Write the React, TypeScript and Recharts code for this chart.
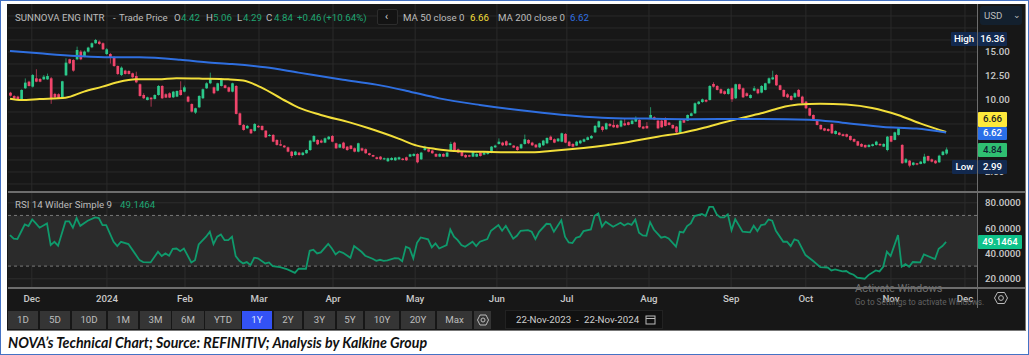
import React from 'react';
import {
  ComposedChart,
  LineChart,
  Bar,
  Line,
  XAxis,
  YAxis,
  CartesianGrid,
  ReferenceArea,
  ReferenceLine,
} from 'recharts';

const opens = [
  10.76, 10.42, 10.35, 10.0, 11.22, 11.91, 11.39, 12.26, 12.19, 12.15,
  12.15, 12.26, 10.63, 10.6, 10.14, 12.57, 14.24, 14.17, 14.24, 15.04,
  14.52, 15.04, 15.49, 15.91, 16.08, 15.91, 14.79, 14.79, 14.45, 13.54,
  12.6, 13.06, 13.02, 12.78, 12.5, 11.64, 10.52, 10.0, 10.24, 10.11,
  10.52, 11.46, 10.6, 10.7, 10.28, 10.35, 11.05, 10.87, 10.35, 9.58,
  8.69, 9.24, 10.18, 11.22, 11.74, 11.32, 10.97, 11.46, 11.53, 11.32,
  10.87, 11.46, 8.61, 7.4, 7.05, 6.95, 6.78, 7.3, 7.3, 6.81,
  6.25, 6.36, 5.84, 5.39, 5.25, 5.07, 4.62, 4.27, 4.52, 4.27,
  4.45, 4.79, 5.66, 5.84, 5.77, 5.56, 5.91, 6.25, 5.49, 5.04,
  5.56, 5.14, 5.25, 4.97, 4.62, 4.97, 4.87, 4.45, 4.27, 4.03,
  4.1, 3.82, 3.62, 3.75, 3.72, 3.82, 3.89, 4.03, 4.1, 4.17,
  4.38, 3.82, 4.79, 4.87, 4.73, 4.38, 4.1, 4.38, 4.1, 4.79,
  5.56, 4.87, 4.59, 4.27, 4.24, 4.1, 4.1, 4.52, 4.31, 4.38,
  4.52, 5.07, 5.42, 5.56, 5.7, 5.32, 5.25, 5.14, 4.97, 5.42,
  5.84, 5.56, 5.35, 5.07, 5.28, 5.49, 6.18, 5.91, 5.7, 5.66,
  6.46, 5.66, 5.42, 5.25, 5.49, 5.66, 5.84, 6.01, 6.63, 7.16,
  7.23, 6.95, 7.5, 7.4, 7.4, 7.23, 7.57, 7.68, 7.5, 7.75,
  7.92, 7.23, 7.3, 8.09, 8.2, 7.85, 7.85, 7.92, 7.64, 7.4,
  7.23, 6.6, 7.92, 7.85, 8.34, 8.61, 9.58, 9.79, 10.0, 10.0,
  11.67, 11.46, 11.12, 10.91, 10.63, 11.22, 10.18, 11.64, 11.22, 10.7,
  10.21, 10.97, 11.12, 10.77, 11.05, 11.74, 12.15, 12.6, 11.53, 11.05,
  10.59, 10.42, 10.28, 11.05, 10.35, 9.83, 9.14, 8.44, 7.92, 7.4,
  7.05, 6.98, 7.5, 6.46, 6.6, 6.43, 6.43, 6.25, 5.94, 5.7,
  5.42, 5.32, 5.11, 5.21, 5.32, 5.42, 5.14, 4.79, 6.25, 5.84,
  6.36, 5.32, 3.48, 3.68, 3.24, 3.41, 3.34, 3.41, 4.17, 3.82,
  3.68, 3.51, 4.27, 4.42,
];

const closes = [
  10.45, 10.17, 10.07, 11.05, 11.81, 11.46, 12.6, 11.91, 11.91, 12.43,
  12.5, 10.18, 10.28, 10.18, 11.95, 13.89, 13.82, 13.06, 15.21, 14.24,
  15.04, 15.46, 15.91, 16.25, 15.84, 15.28, 15.28, 14.45, 13.54, 12.71,
  13.37, 12.71, 12.71, 12.37, 11.84, 10.42, 10.18, 10.28, 10.07, 10.52,
  11.46, 10.18, 10.25, 10.25, 10.87, 10.94, 10.52, 11.32, 9.83, 8.79,
  9.14, 10.42, 11.12, 11.74, 12.26, 10.7, 11.74, 12.15, 11.25, 10.87,
  11.74, 8.55, 7.4, 6.88, 7.3, 6.53, 7.5, 7.16, 6.88, 6.11,
  6.36, 5.66, 5.32, 5.25, 5.07, 4.62, 4.17, 4.62, 4.27, 4.52,
  4.79, 5.77, 6.25, 5.39, 5.56, 6.01, 6.18, 5.66, 4.97, 5.39,
  4.97, 4.79, 4.9, 4.62, 5.49, 4.73, 4.45, 4.27, 4.1, 3.86,
  3.82, 3.93, 3.93, 3.96, 4.0, 4.03, 3.75, 3.72, 4.34, 4.38,
  3.51, 4.52, 5.07, 4.62, 4.45, 4.1, 4.38, 4.1, 4.52, 5.42,
  4.73, 4.52, 4.17, 4.03, 4.1, 4.62, 4.38, 4.17, 4.52, 4.62,
  5.14, 5.25, 5.66, 5.28, 5.28, 5.49, 5.04, 4.79, 5.39, 5.91,
  5.49, 5.28, 5.07, 5.49, 5.77, 6.05, 5.84, 5.56, 5.98, 6.53,
  5.56, 5.21, 5.14, 5.66, 5.77, 5.91, 6.11, 6.25, 7.3, 7.78,
  6.88, 7.57, 7.3, 7.16, 7.12, 7.85, 7.36, 7.4, 7.85, 8.09,
  7.16, 7.02, 7.05, 8.44, 7.99, 7.05, 7.16, 7.3, 7.4, 7.05,
  6.63, 7.85, 7.64, 8.44, 8.61, 9.66, 9.83, 10.07, 9.83, 11.46,
  11.39, 11.05, 10.7, 10.63, 11.15, 10.07, 11.64, 11.12, 10.28, 10.42,
  10.52, 11.22, 10.7, 11.46, 11.74, 12.26, 12.36, 11.53, 11.05, 10.35,
  10.28, 10.0, 10.7, 10.35, 9.66, 9.14, 8.37, 7.92, 7.4, 6.95,
  6.81, 6.77, 6.53, 6.77, 6.36, 6.25, 6.18, 5.84, 5.66, 5.25,
  5.14, 5.07, 5.32, 5.39, 5.66, 5.28, 5.42, 6.18, 5.66, 6.63,
  7.05, 3.41, 3.82, 3.16, 3.48, 3.27, 3.58, 4.1, 3.68, 3.58,
  3.41, 4.2, 4.62, 4.84,
];

const highs = [
  10.85, 10.5, 10.45, 11.1, 12.25, 12.0, 12.7, 13.2, 12.3, 12.6,
  12.75, 12.4, 10.75, 10.7, 12.0, 14.35, 14.3, 14.25, 15.56, 15.2,
  15.15, 15.55, 16.0, 16.36, 16.2, 16.0, 15.4, 14.9, 14.55, 13.6,
  13.5, 13.15, 13.1, 12.85, 12.95, 11.72, 10.7, 10.35, 10.3, 10.6,
  11.55, 11.55, 10.7, 10.8, 10.95, 11.0, 11.95, 11.5, 10.45, 9.65,
  9.2, 10.5, 11.2, 11.85, 12.85, 11.4, 11.8, 12.3, 11.6, 11.4,
  11.8, 11.55, 8.7, 7.5, 7.4, 7.0, 7.6, 7.4, 7.35, 6.85,
  6.45, 6.45, 5.9, 5.85, 5.3, 5.15, 4.7, 4.7, 4.6, 4.6,
  4.85, 5.85, 6.35, 5.9, 5.9, 6.1, 6.25, 6.35, 5.55, 5.45,
  5.65, 5.2, 5.3, 5.05, 5.55, 5.05, 4.95, 4.5, 4.3, 4.1,
  4.15, 4.0, 4.0, 4.05, 4.05, 4.1, 3.95, 4.1, 4.4, 4.45,
  4.45, 4.6, 5.25, 4.95, 4.8, 4.45, 4.45, 4.45, 4.6, 5.65,
  5.65, 4.95, 4.65, 4.35, 4.3, 4.7, 4.45, 4.6, 4.6, 4.7,
  5.2, 5.35, 6.0, 5.65, 5.8, 5.55, 5.3, 5.2, 5.45, 6.4,
  5.9, 5.65, 5.4, 5.55, 5.85, 6.1, 6.3, 6.0, 6.05, 6.6,
  6.55, 5.75, 5.5, 5.75, 5.85, 6.0, 6.2, 6.35, 7.4, 7.85,
  7.3, 7.65, 7.6, 7.9, 7.5, 7.95, 8.1, 7.75, 7.95, 8.3,
  8.0, 7.3, 7.7, 9.25, 8.3, 7.95, 7.95, 8.2, 7.7, 7.45,
  7.3, 7.95, 8.0, 8.5, 8.7, 9.75, 9.9, 10.15, 10.1, 11.55,
  11.85, 11.55, 11.2, 11.0, 11.25, 11.3, 11.7, 11.7, 11.3, 10.8,
  10.6, 11.45, 11.2, 11.55, 11.8, 12.35, 13.05, 12.7, 11.6, 11.1,
  10.7, 10.5, 10.8, 11.15, 10.45, 9.9, 9.2, 8.5, 8.0, 7.45,
  7.1, 7.05, 7.55, 6.85, 6.65, 6.5, 6.5, 6.3, 6.0, 5.75,
  5.5, 5.35, 5.4, 5.45, 5.75, 5.5, 5.5, 6.25, 6.3, 6.7,
  7.1, 5.4, 3.95, 3.75, 3.55, 3.45, 3.65, 4.4, 4.2, 3.9,
  3.75, 4.3, 4.7, 5.06,
];

const lows = [
  10.35, 10.1, 10.0, 9.95, 11.15, 11.4, 11.3, 11.85, 11.85, 12.1,
  12.1, 9.6, 10.2, 10.1, 10.1, 12.5, 13.75, 12.95, 14.15, 14.15,
  14.45, 14.95, 15.4, 15.85, 15.75, 15.2, 14.7, 13.8, 13.45, 12.6,
  12.5, 12.65, 12.65, 12.3, 11.75, 10.35, 10.1, 9.95, 9.3, 10.05,
  10.45, 10.1, 10.2, 10.2, 10.2, 10.3, 10.45, 10.8, 9.75, 8.7,
  8.55, 9.15, 10.1, 11.15, 11.65, 10.6, 10.9, 11.4, 11.2, 10.8,
  10.8, 8.5, 7.35, 6.8, 7.0, 6.45, 6.7, 7.1, 6.8, 6.05,
  6.2, 5.6, 5.25, 5.2, 5.0, 4.55, 3.95, 4.2, 4.2, 4.2,
  4.4, 4.7, 5.6, 5.3, 5.5, 5.5, 5.85, 5.6, 4.9, 5.0,
  4.9, 4.7, 4.85, 4.55, 4.55, 4.65, 4.4, 4.2, 4.05, 3.8,
  3.75, 3.75, 3.55, 3.7, 3.65, 3.75, 3.7, 3.65, 4.05, 4.1,
  3.4, 3.75, 4.7, 4.55, 4.4, 4.05, 4.05, 4.05, 4.05, 4.7,
  4.65, 4.45, 4.1, 3.95, 4.05, 4.05, 4.05, 4.1, 4.25, 4.3,
  4.45, 5.0, 5.35, 5.2, 5.2, 5.25, 5.0, 4.7, 4.9, 5.35,
  5.4, 5.2, 5.0, 5.0, 5.2, 5.4, 5.8, 5.5, 5.65, 5.6,
  5.5, 5.15, 5.05, 5.2, 5.4, 5.6, 5.8, 5.95, 6.55, 7.1,
  6.7, 6.9, 7.2, 7.1, 7.05, 7.15, 7.3, 7.35, 7.45, 7.7,
  7.1, 6.95, 7.0, 8.0, 7.9, 6.95, 7.1, 7.25, 7.35, 7.0,
  6.55, 6.55, 7.6, 7.8, 8.3, 8.55, 9.5, 9.7, 9.75, 9.95,
  11.3, 11.0, 10.65, 10.55, 10.55, 9.8, 10.1, 11.05, 10.2, 10.35,
  10.15, 10.9, 10.6, 10.7, 11.0, 11.65, 12.1, 11.45, 11.0, 10.3,
  10.2, 9.95, 10.2, 10.3, 9.6, 9.05, 8.3, 7.85, 7.35, 6.9,
  6.75, 6.7, 6.45, 6.4, 6.3, 6.2, 6.1, 5.75, 5.6, 5.2,
  5.1, 5.0, 5.05, 5.15, 5.25, 5.2, 5.1, 4.65, 5.6, 5.8,
  6.3, 3.35, 3.4, 2.99, 3.15, 3.2, 3.3, 3.35, 3.6, 3.5,
  3.35, 3.45, 4.2, 4.29,
];

// moving averages are read at these candle positions only
const ma50Days = [
  0, 3, 8, 15, 20, 25, 29, 34, 40, 45, 52, 59, 63, 68, 74, 78, 84, 92, 97, 105, 110, 115, 120, 130,
  140, 146, 155, 165, 170, 175, 182, 187, 192, 197, 203, 208, 213, 219, 226, 233, 240, 246, 253,
];
const ma50Values = [
  10.14, 10.0, 10.1, 10.24, 10.87, 11.39, 11.84, 12.15, 12.15, 12.26, 12.22, 12.15, 12.02, 11.29, 10.0, 9.2,
  8.44, 7.64, 7.05, 5.98, 5.25, 4.9, 4.69, 4.59, 4.55, 4.69, 5.0, 5.49, 5.84, 6.18, 6.6, 7.05, 7.57, 8.06,
  8.61, 9.17, 9.52, 9.62, 9.52, 9.17, 8.44, 7.57, 6.66,
];
const ma200Days = [
  0, 8, 18, 27, 35, 46, 53, 60, 69, 78, 90, 99, 107, 116, 127, 138, 149, 160, 172, 184, 200, 216, 225, 236, 245, 253,
];
const ma200Values = [
  15.1, 14.86, 14.59, 14.45, 14.45, 14.2, 13.93, 13.75, 13.4, 12.85, 12.12, 11.6, 10.97, 10.17, 9.48, 8.92, 8.47,
  8.16, 8.06, 8.0, 8.02, 7.95, 7.64, 7.19, 7.02, 6.62,
];

const rsiDays = [
  0, 1, 2, 3, 4, 5, 6, 7, 8, 10, 11, 12, 13, 15, 16, 17, 18, 19, 21, 23, 24, 25, 26, 28, 29, 30, 32, 33, 35, 36, 38,
  40, 41, 42, 43, 44, 45, 46, 47, 49, 50, 51, 53, 54, 55, 56, 57, 58, 59, 60, 61, 62, 63, 64, 65, 66, 67, 69, 70, 71,
  73, 75, 77, 78, 80, 81, 82, 83, 84, 86, 87, 88, 89, 90, 92, 93, 95, 96, 98, 99, 100, 101, 102, 104, 105, 106, 107,
  108, 109, 110, 111, 113, 114, 115, 116, 118, 119, 120, 121, 122, 123, 125, 126, 127, 129, 130, 132, 133, 134, 136,
  137, 138, 140, 141, 142, 143, 145, 146, 147, 149, 150, 151, 152, 153, 154, 155, 157, 158, 159, 160, 161, 163, 165,
  166, 167, 168, 169, 170, 171, 172, 173, 174, 176, 177, 178, 180, 181, 182, 183, 184, 185, 187, 188, 189, 190, 191,
  192, 193, 194, 195, 196, 198, 200, 201, 202, 203, 204, 205, 206, 207, 209, 210, 211, 212, 213, 215, 217, 219, 221,
  222, 223, 225, 226, 227, 228, 229, 231, 232, 234, 235, 236, 237, 238, 240, 241, 242, 243, 244, 246, 247, 250, 251,
  252, 253,
];
const rsiValues = [
  54.5, 51.6, 51.3, 57.1, 62.9, 61.6, 66.8, 63.7, 60.3, 63.7, 46.6, 49.2, 46.1, 65.3, 65.3, 60.3, 67.9, 61.8, 65.8,
  68.4, 67.9, 62.4, 62.4, 49.2, 45.8, 49.2, 47.4, 43.2, 34.7, 33.2, 32.9, 41.3, 37.9, 40.0, 38.2, 43.7, 43.9, 41.8,
  43.9, 32.9, 34.7, 47.1, 53.2, 57.1, 47.4, 53.2, 55.0, 50.5, 50.5, 53.2, 37.9, 34.2, 32.1, 33.2, 30.8, 36.6, 36.1,
  32.1, 32.9, 30.0, 29.2, 27.4, 24.7, 27.9, 27.9, 42.1, 42.9, 40.0, 40.8, 47.6, 43.9, 39.2, 41.6, 40.5, 36.6, 45.8,
  41.3, 38.2, 35.8, 34.2, 35.0, 34.2, 34.5, 36.3, 36.1, 33.9, 45.3, 43.9, 36.1, 48.4, 52.6, 51.1, 44.7, 47.9, 43.9,
  46.6, 58.9, 53.2, 50.5, 46.6, 45.3, 49.2, 45.8, 49.2, 51.3, 57.9, 62.4, 57.9, 61.8, 51.6, 53.9, 57.9, 58.4, 57.1,
  51.3, 57.1, 63.4, 63.2, 57.1, 66.1, 53.2, 48.7, 48.2, 52.4, 53.2, 57.6, 58.9, 69.7, 71.6, 61.1, 65.0, 61.1, 64.2,
  62.1, 63.7, 62.6, 66.8, 56.3, 54.2, 53.9, 64.7, 58.9, 52.4, 53.2, 51.8, 45.3, 57.1, 56.6, 61.6, 63.7, 69.5, 71.1,
  69.5, 76.8, 76.8, 70.8, 68.4, 68.4, 70.8, 58.4, 67.1, 57.1, 56.6, 61.8, 57.6, 62.4, 62.9, 66.8, 65.8, 57.9, 49.2,
  49.2, 45.8, 51.1, 50.0, 38.7, 34.2, 29.2, 28.9, 26.6, 27.4, 25.8, 26.1, 24.2, 23.2, 20.8, 20.0, 22.9, 26.6, 25.8,
  29.5, 41.3, 37.9, 54.5, 29.5, 31.6, 29.5, 33.2, 32.9, 39.2, 35.5, 43.7, 45.8, 49.15,
];

const monthTicks = [5.9, 26.2, 47.3, 67.3, 87.3, 109.5, 131.6, 150.5, 172.7, 194.9, 215.1, 238.1, 258.1];
const monthLabels = ['Dec', '2024', 'Feb', 'Mar', 'Apr', 'May', 'Jun', 'Jul', 'Aug', 'Sep', 'Oct', 'Nov', 'Dec'];
const priceTicks = [15, 12.5, 10, 7.5, 5, 2.5];
const priceGrid = [
  1.25, 2.5, 3.75, 5, 6.25, 7.5, 8.75, 10, 11.25, 12.5, 13.75, 15, 16.25, 17.5, 18.75,
];
const rsiTicks = [80, 60, 40, 20];
const rangeButtons = [
  ['1D', 8, 30], ['5D', 40, 30], ['10D', 72, 34], ['1M', 108, 30], ['3M', 140, 31], ['6M', 172, 32], ['YTD', 205, 36],
  ['1Y', 242, 30], ['2Y', 274, 28], ['3Y', 304, 31], ['5Y', 337, 26], ['10Y', 365, 34], ['20Y', 401, 34], ['Max', 437, 35],
] as const;

const UP = '#2cc98b';
const DOWN = '#f0456b';
const YELLOW = '#f2de3a';
const BLUE = '#2f6fe0';
const TEXT = '#bdbdbd';
const GREEN_TEXT = '#1fa672';
const FONT = 'Roboto, sans-serif';
const TEXT_SIZE = 9.7;

const candles = opens.map((open, i) => ({
  day: i,
  open,
  close: closes[i],
  high: highs[i],
  low: lows[i],
  range: [lows[i], highs[i]],
  ma50: ma50Days.includes(i) ? ma50Values[ma50Days.indexOf(i)] : null,
  ma200: ma200Days.includes(i) ? ma200Values[ma200Days.indexOf(i)] : null,
}));
const rsiRows = rsiDays.map((day, i) => ({ day, rsi: rsiValues[i] }));

// the bar gives the high-low span in pixels, the body is placed inside it
const Candle = (props: any) => {
  const { x, y, width, height, payload } = props;
  const { open, close, high, low } = payload;
  const perUnit = height / (high - low || 1);
  const top = y + (high - Math.max(open, close)) * perUnit;
  const bodyHeight = Math.max(Math.abs(open - close) * perUnit, 1);
  const color = close >= open ? UP : DOWN;
  const mid = x + width / 2;
  return (
    <g>
      <line x1={mid} x2={mid} y1={y} y2={y + height} stroke={color} strokeOpacity={0.65} strokeWidth={1} />
      <rect x={x} y={top} width={width} height={bodyHeight} fill={color} />
    </g>
  );
};

const Label = ({ x, y, color = TEXT, size = TEXT_SIZE, children, style }: any) => (
  <div
    style={{
      position: 'absolute',
      left: x,
      top: y,
      color,
      fontSize: size,
      lineHeight: '14px',
      fontFamily: FONT,
      whiteSpace: 'nowrap',
      ...style,
    }}
  >
    {children}
  </div>
);

const Tag = ({ x, y, w, h, bg, color = '#fff', children }: any) => (
  <div
    style={{
      position: 'absolute',
      left: x,
      top: y,
      width: w,
      height: h,
      lineHeight: `${h}px`,
      background: bg,
      color,
      fontSize: TEXT_SIZE,
      fontWeight: 500,
      fontFamily: FONT,
      textAlign: 'center',
      borderRadius: 1,
    }}
  >
    {children}
  </div>
);

const Rule = ({ x, y, w, h, bg }: any) => (
  <div style={{ position: 'absolute', left: x, top: y, width: w, height: h, background: bg }} />
);

const axisTick = { fill: '#c8c8c8', fontSize: TEXT_SIZE, fontWeight: 500, fontFamily: FONT };

export default function App() {
  return (
    <div style={{ position: 'absolute', left: 0, top: 0, width: 1029, height: 355, background: '#fff', overflow: 'hidden' }}>
      <div style={{ position: 'absolute', inset: 0, border: '1.5px solid #4472c4', boxSizing: 'border-box' }} />
      <div style={{ position: 'absolute', left: 7, top: 4, width: 1018, height: 326, background: '#171717', borderRight: '1px solid #777', borderBottom: '1px solid #777' }} />
      <div style={{ position: 'absolute', left: 8, top: 193, width: 969, height: 94, background: '#1c1c1c' }} />

      <div style={{ position: 'absolute', left: 8, top: 4 }}>
        <ComposedChart width={1017} height={187} data={candles} margin={{ top: 0, right: 0, bottom: 0, left: 0 }}>
          <CartesianGrid stroke="#2a2a2a" horizontalValues={priceGrid} verticalValues={monthTicks} />
          <XAxis dataKey="day" type="number" domain={[-0.54, 261.35]} hide />
          <YAxis
            orientation="right"
            width={48}
            domain={[0.52, 20]}
            ticks={priceTicks}
            interval={0}
            allowDataOverflow
            tickFormatter={(v: number) => v.toFixed(2)}
            tick={axisTick}
            axisLine={false}
            tickLine={false}
          />
          <Bar dataKey="range" barSize={2.7} shape={<Candle />} isAnimationActive={false} />
          <Line dataKey="ma50" type="monotone" stroke={YELLOW} strokeWidth={2} dot={false} connectNulls isAnimationActive={false} />
          <Line dataKey="ma200" type="monotone" stroke={BLUE} strokeWidth={2} dot={false} connectNulls isAnimationActive={false} />
        </ComposedChart>
      </div>

      <div style={{ position: 'absolute', left: 8, top: 193 }}>
        <LineChart width={1017} height={112} data={rsiRows} margin={{ top: 0, right: 0, bottom: 0, left: 0 }}>
          <ReferenceArea y1={30} y2={70} fill="#2b2b2b" fillOpacity={1} stroke="none" />
          <CartesianGrid stroke="#2c2c2c" horizontalValues={rsiTicks} verticalValues={monthTicks} />
          <ReferenceLine y={70} stroke="#7a7a7a" strokeDasharray="3 3" />
          <ReferenceLine y={30} stroke="#7a7a7a" strokeDasharray="3 3" />
          <XAxis
            dataKey="day"
            type="number"
            domain={[-0.54, 261.35]}
            ticks={monthTicks}
            interval={0}
            height={18}
            tickFormatter={(v: number) => monthLabels[monthTicks.indexOf(v)]}
            tick={axisTick}
            axisLine={false}
            tickLine={false}
          />
          <YAxis
            orientation="right"
            width={48}
            domain={[13.5, 87.7]}
            ticks={rsiTicks}
            interval={0}
            allowDataOverflow
            tickFormatter={(v: number) => v.toFixed(4)}
            tick={axisTick}
            axisLine={false}
            tickLine={false}
          />
          <Line dataKey="rsi" stroke="#0f9a6c" strokeWidth={1.8} dot={false} isAnimationActive={false} />
        </LineChart>
      </div>

      <Rule x={8} y={191} w={1017} h={2} bg="#6d6d6d" />
      <Rule x={8} y={287} w={1017} h={1.5} bg="#6d6d6d" />
      <Rule x={977} y={4} w={1} h={304} bg="#6d6d6d" />

      <Label x={15} y={11}>SUNNOVA ENG INTR</Label>
      <Label x={113} y={11}>-</Label>
      <Label x={119} y={11}>Trade Price</Label>
      <Label x={174} y={11}>O</Label>
      <Label x={181} y={11} color={GREEN_TEXT}>4.42</Label>
      <Label x={206} y={11}>H</Label>
      <Label x={213} y={11} color={GREEN_TEXT}>5.06</Label>
      <Label x={237} y={11}>L</Label>
      <Label x={243} y={11} color={GREEN_TEXT}>4.29</Label>
      <Label x={266} y={11}>C</Label>
      <Label x={274} y={11} color={GREEN_TEXT}>4.84</Label>
      <Label x={297} y={11} color={GREEN_TEXT}>+0.46</Label>
      <Label x={323} y={11} color={GREEN_TEXT}>(+10.64%)</Label>
      <div style={{ position: 'absolute', left: 377, top: 9, width: 21, height: 16, background: '#131313', border: '1px solid #2c2c2c', borderRadius: 2, boxSizing: 'border-box' }} />
      <Label x={385} y={10} color="#d8d8d8" size={10.5}>‹</Label>
      <Label x={403} y={11}>MA 50 close 0</Label>
      <Label x={470} y={11} color={YELLOW}>6.66</Label>
      <Label x={498} y={11}>MA 200 close 0</Label>
      <Label x={570} y={11} color={BLUE}>6.62</Label>

      <Label x={15} y={198}>RSI 14 Wilder Simple 9</Label>
      <Label x={120} y={198} color={GREEN_TEXT}>49.1464</Label>

      <div style={{ position: 'absolute', left: 980, top: 6, width: 42, height: 19, background: '#13202e', borderRadius: 3 }} />
      <Label x={984} y={8.5}>USD</Label>
      <Label x={1013} y={7.5} size={9}>⌄</Label>

      <Tag x={951} y={32} w={26} h={14} bg="#12294f">High</Tag>
      <Tag x={978} y={32} w={29} h={14} bg="#12294f">16.36</Tag>
      <Tag x={978} y={112} w={29} h={14.5} bg="#ffe93b" color="#222">6.66</Tag>
      <Tag x={978} y={127} w={29} h={12.5} bg="#2a6fe8">6.62</Tag>
      <Tag x={978} y={143} w={29} h={14} bg="#2fbf71" color="#123">4.84</Tag>
      <Tag x={952} y={160} w={25} h={14} bg="#12294f">Low</Tag>
      <Tag x={978} y={160} w={29} h={14} bg="#12294f">2.99</Tag>
      <Tag x={978} y={235} w={44} h={14} bg="#0fc28a">49.1464</Tag>

      <Label x={855} y={282} color="#6f6f6f" size={11}>Activate Windows</Label>
      <Label x={855} y={295} color="#626262" size={8.2}>Go to Settings to activate Windows.</Label>

      <svg width={14} height={14} style={{ position: 'absolute', left: 994, top: 291 }}>
        <path d="M3.5 1.5 L10.5 1.5 L13.5 7 L10.5 12.5 L3.5 12.5 L0.5 7 Z" fill="none" stroke="#bbb" strokeWidth={1} />
        <circle cx={7} cy={7} r={2.4} fill="none" stroke="#bbb" strokeWidth={1} />
      </svg>

      {rangeButtons.map(([name, x, w]) => (
        <div
          key={name}
          style={{
            position: 'absolute',
            left: x,
            top: 310.5,
            width: w,
            height: 18,
            lineHeight: '18px',
            textAlign: 'center',
            fontFamily: FONT,
            fontSize: TEXT_SIZE,
            color: name === '1Y' ? '#dfe5ff' : '#bdbdbd',
            background: name === '1Y' ? '#3352f5' : '#353535',
          }}
        >
          {name}
        </div>
      ))}
      <div style={{ position: 'absolute', left: 474, top: 310.5, width: 17, height: 18, background: '#353535' }} />
      <svg width={12} height={12} style={{ position: 'absolute', left: 477, top: 313.5 }}>
        <path d="M3 1 L9 1 L11.5 6 L9 11 L3 11 L0.5 6 Z" fill="none" stroke="#bbb" strokeWidth={1} />
        <circle cx={6} cy={6} r={2} fill="none" stroke="#bbb" strokeWidth={1} />
      </svg>
      <div style={{ position: 'absolute', left: 505, top: 310, width: 158, height: 19, background: '#111', boxSizing: 'border-box', border: '1px solid #222' }} />
      <Label x={516} y={313} color="#cfcfcf">22-Nov-2023</Label>
      <Label x={576} y={313} color="#cfcfcf">-</Label>
      <Label x={584} y={313} color="#cfcfcf">22-Nov-2024</Label>
      <svg width={11} height={11} style={{ position: 'absolute', left: 645, top: 314 }}>
        <rect x={1} y={2} width={9} height={8} fill="none" stroke="#bbb" />
        <line x1={1} x2={10} y1={4.5} y2={4.5} stroke="#bbb" />
      </svg>

      <div
        style={{
          position: 'absolute',
          left: 8,
          top: 334,
          fontFamily: 'Lato, sans-serif',
          fontWeight: 700,
          fontStyle: 'italic',
          fontSize: 14.2,
          lineHeight: '18px',
          color: '#111',
          whiteSpace: 'nowrap',
        }}
      >
        NOVA’s Technical Chart; Source: REFINITIV; Analysis by Kalkine Group
      </div>
    </div>
  );
}
